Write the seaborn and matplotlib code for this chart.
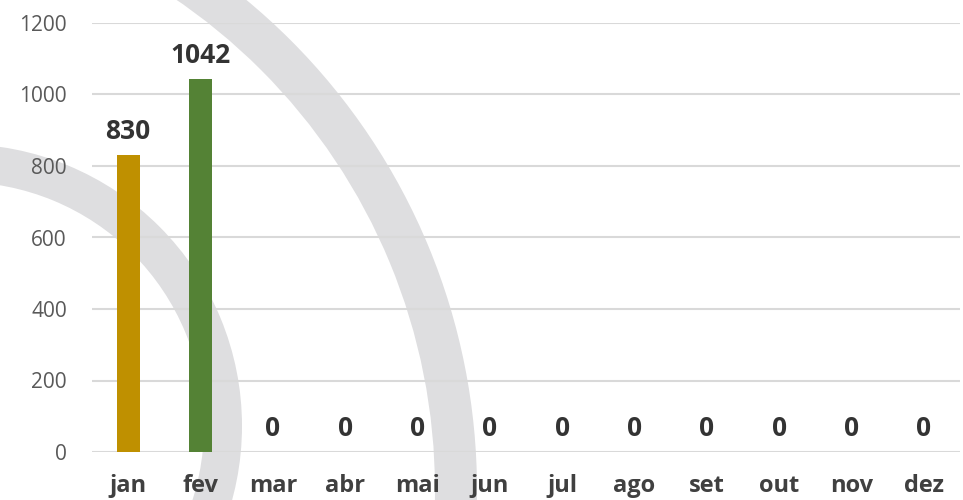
import matplotlib
matplotlib.use("Agg")
import matplotlib.pyplot as plt
import seaborn as sns
from matplotlib.patches import Wedge
from matplotlib.transforms import IdentityTransform

months = ['jan', 'fev', 'mar', 'abr', 'mai', 'jun', 'jul', 'ago', 'set', 'out', 'nov', 'dez']
values = [830, 1042, 0, 0, 0, 0, 0, 0, 0, 0, 0, 0]
bar_colors = ['#BF9000', '#548235'] + ['#7F7F7F'] * 10
yticks = [0, 200, 400, 600, 800, 1000, 1200]

sns.set_theme(style="white")
plt.rcParams['font.family'] = ['Open Sans', 'DejaVu Sans']

fig = plt.figure(figsize=(9.63, 5), dpi=100)
fig.patch.set_facecolor('white')

# watermark rings behind the chart (pixel coords, origin bottom-left)
for cx, cy, r, w in [(-159, 10, 636, 42), (-40, 74, 282, 38)]:
    ring = Wedge((cx, cy), r, 0, 360, width=w, facecolor='#dedee0',
                 edgecolor='none', transform=IdentityTransform(), zorder=-1)
    fig.add_artist(ring)

ax = fig.add_axes([0.0955, 0.096, 0.9015, 0.858])
ax.patch.set_alpha(0)

sns.barplot(x=months, y=values, hue=months, palette=bar_colors, legend=False,
            width=0.32, saturation=1, linewidth=0, edgecolor='none', ax=ax, zorder=3)

ax.set_ylim(0, 1200)
ax.set_xlim(-0.5, 11.5)
ax.set_yticks(yticks)
ax.yaxis.grid(True, color='#d9d9d9', linewidth=1.5, zorder=0)
ax.set_axisbelow(True)
for s in ax.spines.values():
    s.set_visible(False)

ax.tick_params(axis='y', length=0, pad=18, labelsize=15, labelcolor='#595959')
ax.tick_params(axis='x', length=0, pad=16, labelsize=17, labelcolor='#404040')
for lbl in ax.get_xticklabels():
    lbl.set_fontweight('bold')
ax.set_xlabel('')
ax.set_ylabel('')

for i, v in enumerate(values):
    ax.annotate(f'{v}', (i, v), xytext=(0, 17), textcoords='offset points',
                ha='center', va='center', fontsize=19, fontweight='bold',
                color='#333333')

plt.savefig('out.png', dpi=100)
